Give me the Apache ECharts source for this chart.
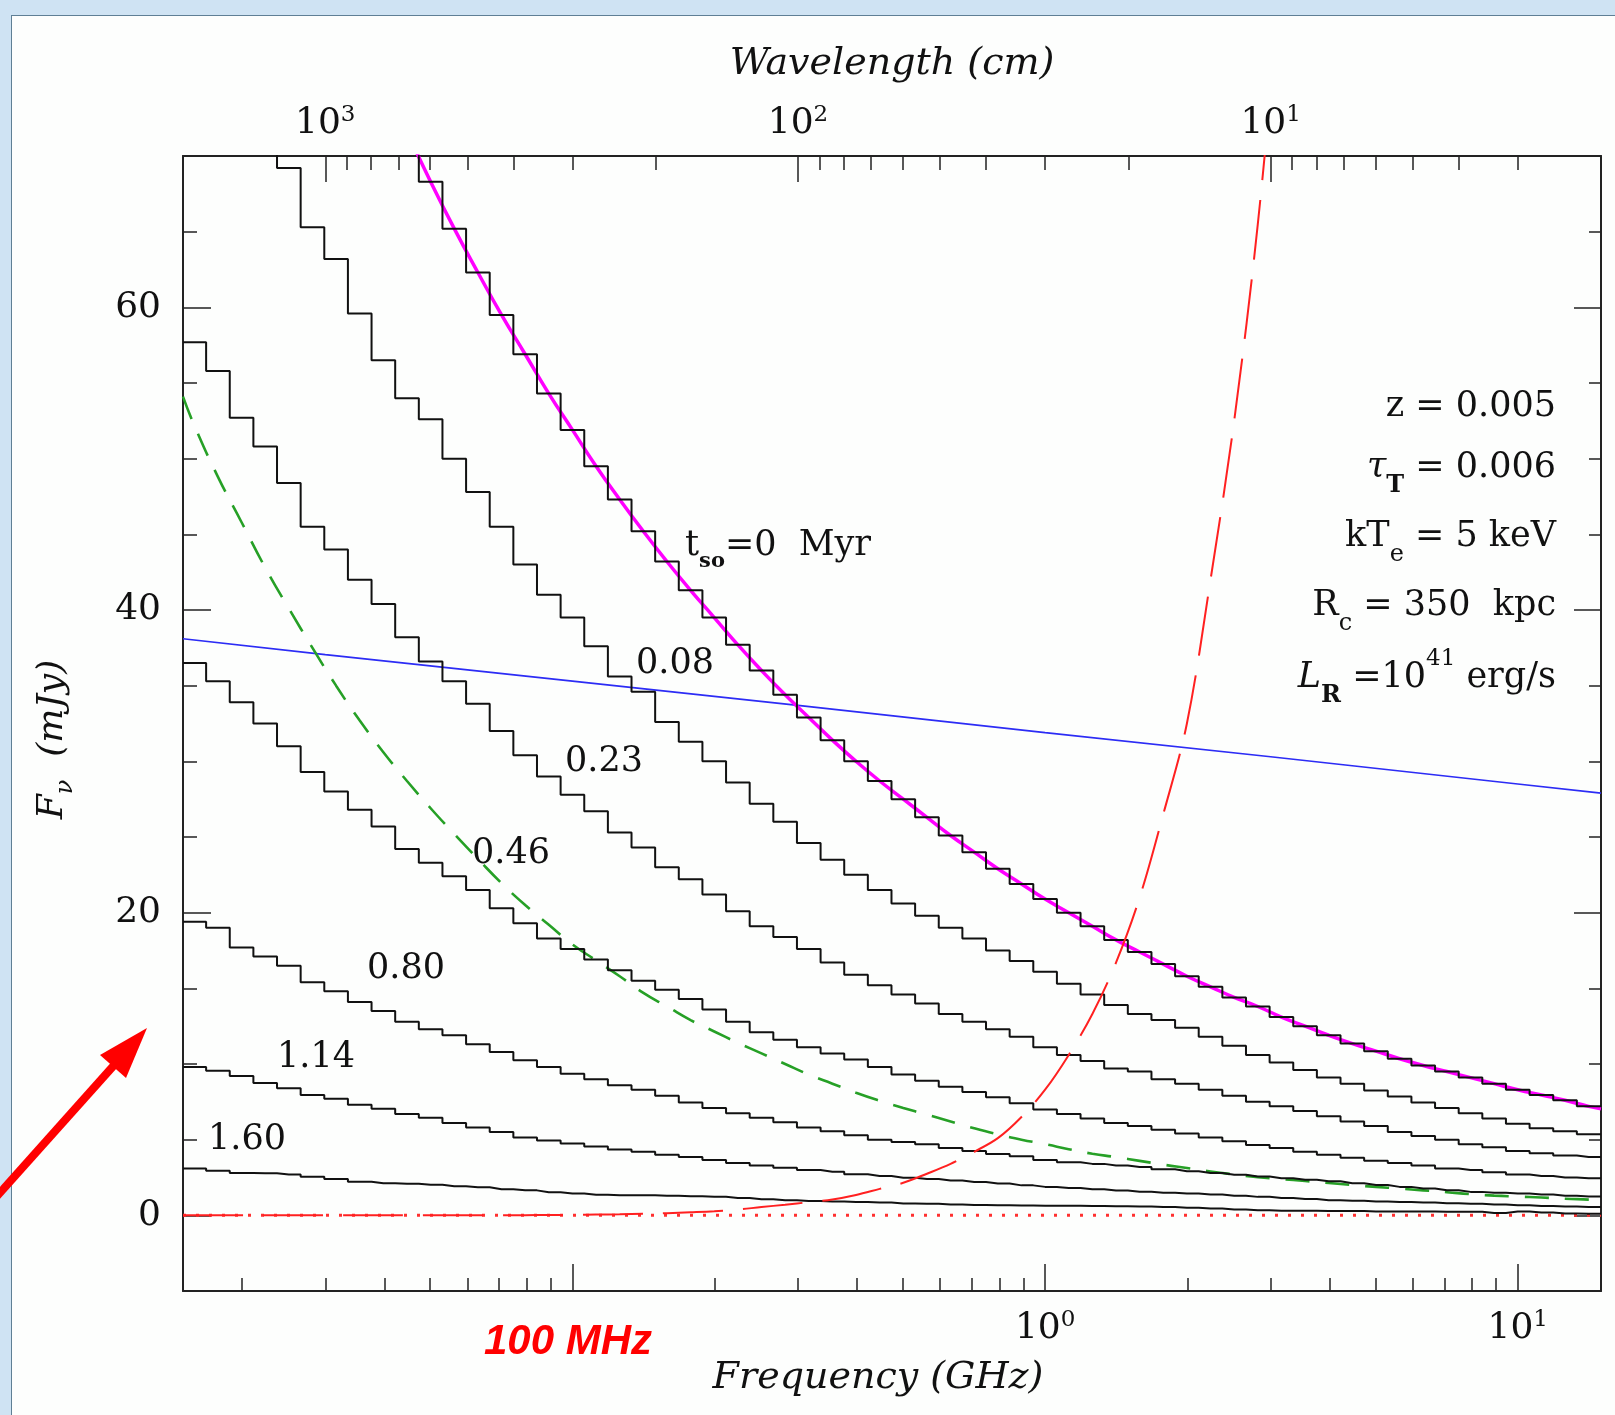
<!DOCTYPE html>
<html>
<head>
<meta charset="utf-8">
<script src="https://cdn.jsdelivr.net/npm/echarts@6.0.0/dist/echarts.min.js"></script>
<style>
  html, body { margin: 0; padding: 0; background: #cfe3f3; }
  #panel { position: absolute; left: 11px; top: 15px; width: 1604px; height: 1400px;
           background: #fdfefd; border-left: 1px solid #5f7f95; border-top: 1px solid #5f7f95; box-sizing: border-box; }
  #chart { position: absolute; left: 0; top: 0; width: 1615px; height: 1415px; }
</style>
</head>
<body>
<div id="panel"></div>
<div id="chart"></div>
<script>
// ---------------- DATA ----------------
const NU_MIN = 0.015, NU_MAX = 15;           // GHz, plot edges
// bin centres, log10(GHz)
const logNuCenters = [-1.80,-1.75,-1.70,-1.65,-1.60,-1.55,-1.50,-1.45,-1.40,-1.35,
  -1.30,-1.25,-1.20,-1.15,-1.10,-1.05,-1.00,-0.95,-0.90,-0.85,
  -0.80,-0.75,-0.70,-0.65,-0.60,-0.55,-0.50,-0.45,-0.40,-0.35,
  -0.30,-0.25,-0.20,-0.15,-0.10,-0.05,0.00,0.05,0.10,0.15,
  0.20,0.25,0.30,0.35,0.40,0.45,0.50,0.55,0.60,0.65,
  0.70,0.75,0.80,0.85,0.90,0.95,1.00,1.05,1.10,1.15];

// staircase spectra (mJy), t_so in Myr
const flux_t000 = [null,null,null,null,null,null,null,null,75.0,71.6,68.3,65.2,62.3,59.5,56.9,54.3,51.9,49.5,47.3,45.2,43.2,41.3,39.5,37.7,36.0,34.4,32.9,31.4,30.0,28.7,27.5,26.3,25.1,24.0,22.9,21.9,20.9,20.0,19.1,18.2,17.4,16.6,15.8,15.1,14.4,13.8,13.1,12.5,11.9,11.35,10.85,10.35,9.9,9.5,9.1,8.7,8.3,7.95,7.6,7.2];
const flux_t008 = [null,null,null,72.5,69.2,65.3,63.2,59.6,56.5,54.0,52.6,50.0,47.8,45.5,43.0,41.0,39.5,37.6,35.6,34.6,32.6,31.3,30.0,28.6,27.2,26.0,24.6,23.5,22.5,21.5,20.6,19.8,19.0,18.3,17.5,16.8,16.1,15.3,14.6,13.9,13.3,12.9,12.4,11.8,11.2,10.6,10.1,9.6,9.1,8.7,8.25,7.85,7.45,7.1,6.75,6.4,6.05,5.75,5.55,5.35];
const flux_t023 = [57.7,55.8,52.7,50.8,48.4,45.5,44.0,42.0,40.4,38.2,36.6,35.3,33.8,32.0,30.4,29.0,27.8,26.7,25.3,24.3,23.0,22.2,21.2,20.1,19.1,18.4,17.6,16.7,15.9,15.2,14.6,14.0,13.3,12.8,12.3,11.8,11.1,10.6,10.2,9.7,9.5,9.0,8.7,8.3,7.9,7.5,7.2,6.9,6.55,6.2,5.9,5.5,5.25,5.0,4.7,4.5,4.25,4.1,3.95,3.85];
const flux_t046 = [36.5,35.3,33.9,32.5,31.0,29.3,28.0,26.8,25.7,24.2,23.3,22.4,21.5,20.3,19.3,18.3,17.6,16.9,16.2,15.5,14.9,14.3,13.6,12.8,12.1,11.6,11.1,10.7,10.3,9.8,9.3,8.9,8.5,8.15,7.8,7.4,7.0,6.7,6.4,6.1,5.9,5.65,5.4,5.15,4.9,4.65,4.45,4.2,4.0,3.8,3.6,3.45,3.3,3.1,3.0,2.85,2.7,2.6,2.5,2.45];
const flux_t080 = [19.4,19.0,17.7,17.1,16.5,15.4,14.8,14.1,13.5,12.8,12.3,11.9,11.3,10.8,10.25,9.8,9.35,9.0,8.6,8.3,7.9,7.45,7.1,6.75,6.45,6.15,5.8,5.55,5.3,5.0,4.85,4.7,4.45,4.25,4.05,3.9,3.65,3.5,3.4,3.3,3.2,3.05,2.92,2.8,2.68,2.57,2.45,2.35,2.25,2.12,2.0,1.88,1.77,1.65,1.55,1.5,1.45,1.38,1.3,1.24];
const flux_t114 = [9.8,9.55,9.2,8.75,8.4,7.95,7.7,7.3,7.05,6.7,6.45,6.1,5.8,5.5,5.15,4.95,4.75,4.55,4.35,4.2,4.0,3.85,3.65,3.45,3.3,3.15,3.0,2.88,2.72,2.6,2.48,2.4,2.3,2.2,2.1,1.98,1.88,1.8,1.72,1.64,1.56,1.5,1.44,1.38,1.3,1.22,1.15,1.08,1.0,0.96,0.92,0.88,0.84,0.8,0.76,0.72,0.66,0.62,0.58,0.55];
const flux_t160 = [3.1,2.95,2.8,2.78,2.7,2.55,2.4,2.22,2.12,2.08,2.02,1.92,1.85,1.72,1.65,1.52,1.44,1.36,1.33,1.32,1.3,1.26,1.22,1.15,1.06,1.0,0.95,0.92,0.88,0.84,0.79,0.76,0.72,0.68,0.66,0.65,0.64,0.63,0.62,0.6,0.58,0.55,0.5,0.45,0.38,0.33,0.3,0.3,0.28,0.28,0.26,0.26,0.25,0.24,0.24,0.15,0.25,0.18,0.12,0.1];

// smooth model curves
const flux_model0 = [null,null,null,null,null,null,null,null,75.0,71.6,68.3,65.2,62.3,59.5,56.9,54.3,51.9,49.5,47.3,45.2,43.2,41.3,39.5,37.7,36.0,34.4,32.9,31.4,30.0,28.7,27.5,26.3,25.1,24.0,22.9,21.9,20.9,20.0,19.1,18.2,17.4,16.6,15.8,15.1,14.4,13.8,13.1,12.5,11.9,11.35,10.85,10.35,9.9,9.5,9.1,8.7,8.3,7.95,7.6,7.2];
const flux_model0_right = 7.05;
const flux_green = [52.2,48.8,45.8,42.8,40.1,37.5,35.0,32.7,30.6,28.7,26.9,25.2,23.55,21.95,20.5,19.2,17.9,16.85,15.8,14.7,13.8,12.9,12.15,11.4,10.7,10.0,9.3,8.7,8.1,7.57,7.1,6.65,6.2,5.75,5.35,5.0,4.7,4.37,4.07,3.85,3.6,3.35,3.13,2.9,2.7,2.52,2.4,2.27,2.14,2.0,1.88,1.77,1.65,1.53,1.4,1.3,1.24,1.18,1.1,1.04];
const flux_green_edges = [54.1, 1.0];
const flux_sz = [0,0,0,0,0,0,0,0,0,0,0,0,0,0,0.01,0.02,0.03,0.05,0.07,0.1,0.14,0.2,0.27,0.38,0.55,0.7,0.87,1.05,1.35,1.75,2.15,2.75,3.4,4.2,5.1,6.5,8.3,10.6,13.3,16.7,21.0,26.5,32.5,42.0,52.5,65.5,82.0,null,null,null,null,null,null,null,null,null,null,null,null,null];
const flux_sz_left = 0;
const blueNu = [0.015, 0.03, 0.1, 0.3, 1, 3, 10, 15];
const blueFlux = [38.1, 37.05, 35.3, 33.7, 31.9, 30.3, 28.5, 27.9];
const zeroNu = [0.015, 15];
const zeroFlux = [0, 0];

// ticks
const freqMajorTicks = [0.1, 1, 10];
const freqLabelTicks = [1, 10];
const freqMinorTicks = [0.02,0.03,0.04,0.05,0.06,0.07,0.08,0.09,0.2,0.3,0.4,0.5,0.6,0.7,0.8,0.9,2,3,4,5,6,7,8,9];
const waveMajorTicks = [10, 100, 1000];
const waveMinorTicks = [3,4,5,6,7,8,9,20,30,40,50,60,70,80,90,200,300,400,500,600,700,800,900];
const fluxMajorTicks = [0, 20, 40, 60];
const fluxMinorTicks = [5,10,15,25,30,35,45,50,55,65];

// ---------------- BUILD ----------------
const SERIF = '"DejaVu Serif", serif';
const INK = '#111';
const nuCenters = logNuCenters.map(l => Math.pow(10, l));

function stepData(vals) {
  const pts = [];
  if (vals[0] !== null) pts.push([NU_MIN, vals[0]]);
  vals.forEach((v, i) => { if (v !== null) pts.push([nuCenters[i], v]); });
  pts.push([NU_MAX, vals[vals.length - 1]]);
  return pts;
}
function centerData(vals) {
  const pts = [];
  vals.forEach((v, i) => { if (v !== null) pts.push([nuCenters[i], v]); });
  return pts;
}
function stepSeries(vals) {
  return { type: 'line', step: 'middle', data: stepData(vals), symbol: 'none', z: 5,
           lineStyle: { color: INK, width: 2 }, silent: true };
}

const axisRich = {
  b: { fontFamily: SERIF, fontSize: 36, lineHeight: 40, color: INK },
  s: { fontFamily: SERIF, fontSize: 23, lineHeight: 26, verticalAlign: 'top', color: INK }
};
const supFmt = v => '{b|10}{s|' + Math.round(Math.log10(v)) + '}';
const nameStyle = { fontFamily: SERIF, fontStyle: 'italic', fontSize: 38, color: INK };
const lineAx = { show: true, onZero: false, lineStyle: { color: '#222', width: 2 } };
const noLine = { show: false, onZero: false };
const tickStyle = { color: '#222', width: 1.5 };

const greenData = [[NU_MIN, flux_green_edges[0]]].concat(centerData(flux_green), [[NU_MAX, flux_green_edges[1]]]);
const szData = [[NU_MIN, flux_sz_left]].concat(centerData(flux_sz));
const model0Data = centerData(flux_model0).concat([[NU_MAX, flux_model0_right]]);

const baseRich = {
  b: { fontFamily: SERIF, fontSize: 35, lineHeight: 60, color: INK },
  i: { fontFamily: SERIF, fontSize: 35, lineHeight: 60, fontStyle: 'italic', color: INK },
  s: { fontFamily: SERIF, fontSize: 24, lineHeight: 24, verticalAlign: 'bottom', color: INK },
  sb: { fontFamily: SERIF, fontSize: 24, lineHeight: 24, fontWeight: 'bold', verticalAlign: 'bottom', color: INK },
  p: { fontFamily: SERIF, fontSize: 23, lineHeight: 44, verticalAlign: 'top', color: INK }
};
const curveRich = {
  b: { fontFamily: SERIF, fontSize: 35, lineHeight: 52, color: INK },
  s: { fontFamily: SERIF, fontSize: 21, lineHeight: 20, fontWeight: 'bold', verticalAlign: 'bottom', color: INK }
};
function txt(x, y, text, rich, align) {
  return { type: 'text', x: x, y: y, z: 20,
    style: { text: text, rich: rich, align: align || 'left', verticalAlign: 'middle',
             textAlign: align || 'left', textVerticalAlign: 'middle', fill: INK,
             font: '35px ' + SERIF } };
}

const option = {
  backgroundColor: 'transparent',
  animation: false,
  grid: { left: 183, right: 14, top: 156, bottom: 124, containLabel: false, outerBoundsMode: 'none' },
  xAxis: [
    { type: 'log', logBase: 10, min: NU_MIN, max: NU_MAX, position: 'bottom',
      axisLine: lineAx,
      axisTick: { show: true, inside: true, length: 27, customValues: freqMajorTicks, lineStyle: tickStyle },
      axisLabel: { show: true, customValues: freqLabelTicks, margin: 18, formatter: supFmt, rich: axisRich },
      splitLine: { show: false }, minorTick: { show: false },
      name: 'Frequency (GHz)', nameLocation: 'middle', nameGap: 68,
      nameTextStyle: Object.assign({ padding: [0, 28, 0, 0] }, nameStyle) },
    { type: 'log', logBase: 10, min: NU_MIN, max: NU_MAX, position: 'bottom',
      axisLine: noLine,
      axisTick: { show: true, inside: true, length: 13, customValues: freqMinorTicks, lineStyle: tickStyle },
      axisLabel: { show: false }, splitLine: { show: false } },
    { type: 'log', logBase: 10, min: 2, max: 2000, inverse: true, position: 'top',
      axisLine: lineAx,
      axisTick: { show: true, inside: true, length: 26, customValues: waveMajorTicks, lineStyle: tickStyle },
      axisLabel: { show: true, customValues: waveMajorTicks, margin: 12, formatter: supFmt, rich: axisRich },
      splitLine: { show: false },
      name: 'Wavelength (cm)', nameLocation: 'middle', nameGap: 73, nameTextStyle: nameStyle },
    { type: 'log', logBase: 10, min: 2, max: 2000, inverse: true, position: 'top',
      axisLine: noLine,
      axisTick: { show: true, inside: true, length: 14, customValues: waveMinorTicks, lineStyle: tickStyle },
      axisLabel: { show: false }, splitLine: { show: false } }
  ],
  yAxis: [
    { type: 'value', min: -5, max: 70, position: 'left',
      axisLine: lineAx,
      axisTick: { show: true, inside: true, length: 28, customValues: fluxMajorTicks, lineStyle: tickStyle },
      axisLabel: { show: true, customValues: fluxMajorTicks, margin: 22, fontFamily: SERIF, fontSize: 36, color: INK },
      splitLine: { show: false },
      name: '{i|F}{s|ν}{i|  (mJy)}', nameLocation: 'middle', nameGap: 105,
      nameTextStyle: { padding: [0, 32, 0, 0], rich: {
        i: { fontFamily: SERIF, fontStyle: 'italic', fontSize: 36, lineHeight: 50, color: INK },
        s: { fontFamily: SERIF, fontStyle: 'italic', fontSize: 24, lineHeight: 24, verticalAlign: 'bottom', color: INK } } } },
    { type: 'value', min: -5, max: 70, position: 'left',
      axisLine: noLine,
      axisTick: { show: true, inside: true, length: 14, customValues: fluxMinorTicks, lineStyle: tickStyle },
      axisLabel: { show: false }, splitLine: { show: false } },
    { type: 'value', min: -5, max: 70, position: 'right',
      axisLine: lineAx,
      axisTick: { show: true, inside: true, length: 27, customValues: fluxMajorTicks, lineStyle: tickStyle },
      axisLabel: { show: false }, splitLine: { show: false } },
    { type: 'value', min: -5, max: 70, position: 'right',
      axisLine: noLine,
      axisTick: { show: true, inside: true, length: 12, customValues: fluxMinorTicks, lineStyle: tickStyle },
      axisLabel: { show: false }, splitLine: { show: false } }
  ],
  series: [
    { type: 'line', data: blueNu.map((n, i) => [n, blueFlux[i]]), symbol: 'none', z: 2,
      lineStyle: { color: '#2c2cf5', width: 1.6 } },
    { type: 'line', data: greenData, smooth: true, symbol: 'none', z: 2,
      lineStyle: { color: '#26a026', width: 2.6, type: [24, 16] } },
    { type: 'line', data: zeroNu.map((n, i) => [n, zeroFlux[i]]), symbol: 'none', z: 2,
      lineStyle: { color: '#ff3030', width: 3, type: [3, 10] } },
    { type: 'line', data: model0Data, smooth: true, symbol: 'none', z: 3,
      lineStyle: { color: '#ff00ff', width: 3.5 } },
    stepSeries(flux_t000),
    stepSeries(flux_t008),
    stepSeries(flux_t023),
    stepSeries(flux_t046),
    stepSeries(flux_t080),
    stepSeries(flux_t114),
    stepSeries(flux_t160),
    { type: 'line', data: szData, smooth: 0.35, symbol: 'none', z: 6,
      lineStyle: { color: '#ff2020', width: 2, type: [60, 20] } }
  ],
  graphic: { elements: [
    txt(685, 546, '{b|t}{s|so}{b|=0  Myr}', curveRich),
    txt(636, 664, '{b|0.08}', curveRich),
    txt(565, 762, '{b|0.23}', curveRich),
    txt(472, 854, '{b|0.46}', curveRich),
    txt(367, 969, '{b|0.80}', curveRich),
    txt(277, 1058, '{b|1.14}', curveRich),
    txt(208, 1140, '{b|1.60}', curveRich),
    txt(1556, 407, '{b|z = 0.005}', baseRich, 'right'),
    txt(1556, 468, '{i|τ}{sb|T}{b| = 0.006}', baseRich, 'right'),
    txt(1556, 537, '{b|kT}{s|e}{b| = 5 keV}', baseRich, 'right'),
    txt(1556, 606, '{b|R}{s|c}{b| = 350  kpc}', baseRich, 'right'),
    txt(1556, 678, '{i|L}{sb|R}{b| =10}{p|41}{b| erg/s}', baseRich, 'right'),
    { type: 'text', x: 568, y: 1342, z: 20,
      style: { text: '100 MHz', font: 'italic bold 42px "Liberation Sans", Arial, sans-serif',
               fill: '#ff0000', align: 'center', verticalAlign: 'middle',
               textAlign: 'center', textVerticalAlign: 'middle' } },
    { type: 'line', z: 30, shape: { x1: -3, y1: 1196, x2: 116, y2: 1063 },
      style: { stroke: '#ff0000', lineWidth: 8 } },
    { type: 'polygon', z: 30, shape: { points: [[147, 1028], [100, 1055], [126, 1078]] },
      style: { fill: '#ff0000' } }
  ] }
};

const chart = echarts.init(document.getElementById('chart'), null, { renderer: 'canvas' });
chart.setOption(option);
</script>
</body>
</html>
